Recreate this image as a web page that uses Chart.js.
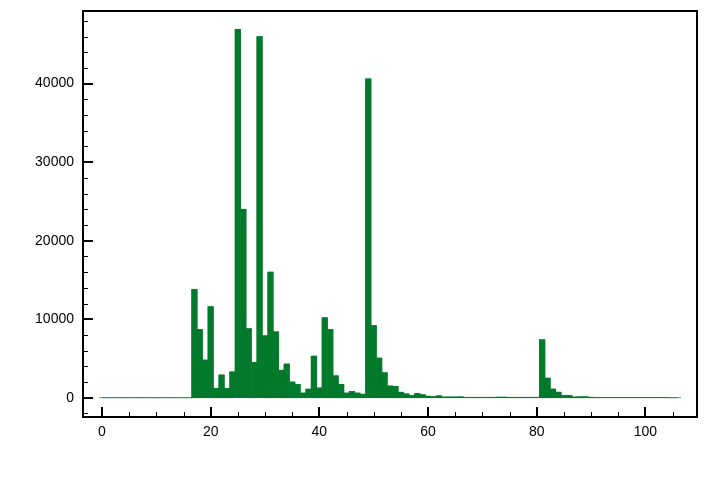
<!DOCTYPE html>
<html>
<head>
<meta charset="utf-8">
<script src="https://cdn.jsdelivr.net/npm/chart.js@4.4.1/dist/chart.umd.min.js"></script>
<style>
  html, body { margin: 0; padding: 0; background: #ffffff; }
  #wrap { width: 708px; height: 500px; }
</style>
</head>
<body>
<div id="wrap"><canvas id="chart" width="708" height="500"></canvas></div>
<script>
// histogram bins: first bin centre and width
const binStart = 0;
const binWidth = 1;

// counts per bin (bins 0 .. 106)
const counts = [
    0, 0, 0, 0, 0, 0, 0, 0, 0, 0,                     // 0-9
    0, 0, 0, 0, 0, 0, 0, 13800, 8700, 4800,           // 10-19
    11600, 1200, 2900, 1200, 3300, 46900, 24000, 8800, 4500, 46000,   // 20-29
    7900, 16000, 8400, 3500, 4300, 2000, 1700, 600, 1100, 5300,       // 30-39
    1250, 10200, 8700, 2800, 1700, 600, 800, 600, 450, 40600,         // 40-49
    9200, 5050, 3200, 1500, 1450, 700, 500, 300, 550, 400,            // 50-59
    200, 150, 250, 100, 100, 100, 120, 50, 50, 50,                    // 60-69
    50, 50, 50, 80, 80, 50, 50, 50, 50, 50,                           // 70-79
    50, 7400, 2500, 1100, 700, 300, 300, 100, 130, 130,               // 80-89
    60, 40, 40, 40, 40, 40, 40, 40, 40, 40,                           // 90-99
    40, 40, 40, 30, 30, 0, 0                                          // 100-106
];

// tick labels
const xTicks = [0, 20, 40, 60, 80, 100];
const yTicks = [0, 10000, 20000, 30000, 40000];
const xMinorStep = 5;
const yMinorStep = 2000;

const barColor = '#037a2b';
const edgeColor = '#62b27c';

let histData = counts.map((c, i) => ({x: binStart + i * binWidth, y: c}));

// draws the frame and the inward pointing tick marks
const frameTicks = {
    id: 'frameTicks',
    afterDatasetsDraw(chart) {
        const ctx = chart.ctx;
        const area = chart.chartArea;
        const xs = chart.scales.x;
        const ys = chart.scales.y;
        ctx.save();
        ctx.strokeStyle = '#000000';

        // minor ticks
        ctx.lineWidth = 1;
        ctx.beginPath();
        for (let v = Math.ceil(xs.min / xMinorStep) * xMinorStep; v <= xs.max; v += xMinorStep) {
            if (xTicks.includes(v)) continue;
            let px = Math.round(xs.getPixelForValue(v)) + 0.5;
            ctx.moveTo(px, area.bottom);
            ctx.lineTo(px, area.bottom - 5);
        }
        for (let v = Math.ceil(ys.min / yMinorStep) * yMinorStep; v <= ys.max; v += yMinorStep) {
            if (yTicks.includes(v)) continue;
            let py = Math.round(ys.getPixelForValue(v)) + 0.5;
            ctx.moveTo(area.left, py);
            ctx.lineTo(area.left + 5, py);
        }
        ctx.stroke();

        // major ticks
        ctx.lineWidth = 2;
        ctx.beginPath();
        for (let v of xTicks) {
            let px = Math.round(xs.getPixelForValue(v));
            ctx.moveTo(px, area.bottom);
            ctx.lineTo(px, area.bottom - 10);
        }
        for (let v of yTicks) {
            let py = Math.round(ys.getPixelForValue(v));
            ctx.moveTo(area.left, py);
            ctx.lineTo(area.left + 10, py);
        }
        ctx.stroke();

        // frame
        ctx.lineWidth = 2;
        ctx.strokeRect(area.left, area.top, area.right - area.left, area.bottom - area.top);
        ctx.restore();
    }
};

Chart.defaults.font.family = '"Liberation Sans", Arial, sans-serif';
Chart.defaults.font.size = 14;
Chart.defaults.color = '#000000';

new Chart(document.getElementById('chart'), {
    data: {
        datasets: [
            {
                type: 'bar',
                data: histData,
                backgroundColor: barColor,
                borderWidth: 0,
                barPercentage: 1.0,
                categoryPercentage: 1.0,
                order: 1
            },
            {
                type: 'line',
                data: histData,
                stepped: 'middle',
                borderColor: edgeColor,
                borderWidth: 1,
                pointRadius: 0,
                fill: false,
                order: 2
            }
        ]
    },
    options: {
        responsive: false,
        animation: false,
        devicePixelRatio: 1,
        layout: {
            padding: {top: 11, right: 11, left: 0, bottom: 0}
        },
        plugins: {
            legend: {display: false},
            tooltip: {enabled: false}
        },
        scales: {
            x: {
                type: 'linear',
                offset: false,
                min: -3.5,
                max: 109.5,
                grid: {display: false, offset: false, drawTicks: false, tickLength: 0},
                border: {display: false},
                ticks: {
                    padding: 7,
                    maxRotation: 0,
                    callback: (v) => String(v)
                },
                afterBuildTicks: (scale) => {
                    scale.ticks = xTicks.map(v => ({value: v}));
                },
                afterFit: (scale) => {
                    scale.height = 83;
                    scale.paddingLeft = 0;
                    scale.paddingRight = 0;
                }
            },
            y: {
                type: 'linear',
                min: -2450,
                max: 49250,
                grid: {display: false, drawTicks: false, tickLength: 0},
                border: {display: false},
                ticks: {
                    padding: 9,
                    callback: (v) => String(v)
                },
                afterBuildTicks: (scale) => {
                    scale.ticks = yTicks.map(v => ({value: v}));
                },
                afterFit: (scale) => {
                    scale.width = 83;
                    scale.paddingTop = 0;
                    scale.paddingBottom = 0;
                }
            }
        }
    },
    plugins: [frameTicks]
});
</script>
</body>
</html>
